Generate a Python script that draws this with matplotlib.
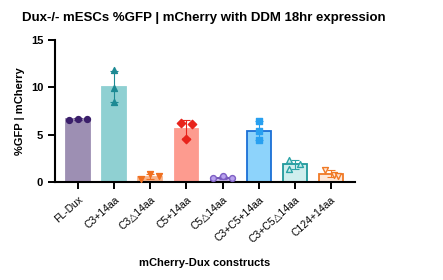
import numpy as np
import matplotlib.pyplot as plt

plt.rcParams['font.family'] = ['Liberation Sans', 'DejaVu Sans']
plt.rcParams['font.weight'] = 'bold'

# -----------------------------
# DATA
# -----------------------------
constructs = ["FL-Dux", "C3+14aa", "C3△14aa", "C5+14aa", "C5△14aa",
              "C3+C5+14aa", "C3+C5△14aa", "C124+14aa"]

rep1 = [6.5, 11.8, 0.3, 6.2, 0.4, 6.4, 2.3, 1.3]
rep2 = [6.7, 9.9, 0.8, 6.1, 0.6, 5.4, 1.9, 0.75]
rep3 = [6.7, 8.5, 0.6, 4.5, 0.4, 4.4, 1.4, 0.6]

# -----------------------------
# STYLE
# -----------------------------
bar_fill = ["#9d8fb3", "#8fd0d2", "#f8b48c", "#fd9b8f", "#c9b8ea",
            "#8dd3fb", "#cfeeee", "#fde7d8"]
bar_edge = ["#9d8fb3", "#8fd0d2", "#f8b48c", "#fd9b8f", "#6a4fb0",
            "#1a6fd6", "#21999c", "#f07a26"]
pt_color = ["#3b1f6b", "#1d8a94", "#f07020", "#e8231b", "#7e5fc4",
            "#28a0f0", "#2aa3a6", "#f07a26"]
pt_face = ["#3b1f6b", "#1d8a94", "#f07020", "#e8231b", "#b9a3ee",
           "#28a0f0", "#cdeeee", "#fde7d8"]
markers = ["o", "^", "v", "D", "o", "s", "^", "v"]
offsets = [[-0.25, 0, 0.25], [0, 0, 0], [-0.25, 0, 0.25], [-0.16, 0.15, 0],
           [-0.27, 0, 0.27], [0, 0, 0], [-0.17, 0.16, -0.17], [-0.15, 0.1, 0.2]]

reps = np.array([rep1, rep2, rep3])
means = reps.mean(axis=0)
sds = reps.std(axis=0, ddof=1)
x = np.arange(len(constructs))

fig = plt.figure(figsize=(4.43, 2.8), dpi=100)
ax = fig.add_axes([0.124, 0.35, 0.678, 0.507])

ax.bar(x, means, width=0.66, color=bar_fill, edgecolor=bar_edge, linewidth=1.3, zorder=1)

for i in range(len(constructs)):
    ax.errorbar(x[i], means[i], yerr=sds[i], fmt="none", ecolor=pt_color[i],
                elinewidth=0.8, capsize=3, capthick=0.8, zorder=2)
    ax.scatter(x[i] + np.array(offsets[i]), reps[:, i], marker=markers[i], s=18,
               color=pt_face[i], edgecolors=pt_color[i], linewidths=1.0, zorder=3)

ax.set_xlim(-0.645, 7.68)
ax.set_ylim(0, 15)
ax.set_yticks([0, 5, 10, 15])
ax.set_xticks(x)
ax.set_xticklabels(constructs, rotation=42, ha="right", rotation_mode="anchor",
                   fontsize=7.5, fontweight="normal")
ax.tick_params(axis="y", labelsize=8, width=1.4, length=5)
ax.tick_params(axis="x", width=1.4, length=5, pad=4)
for side in ["top", "right"]:
    ax.spines[side].set_visible(False)
for side in ["left", "bottom"]:
    ax.spines[side].set_linewidth(1.5)

ax.set_ylabel("%GFP | mCherry", fontsize=8, fontweight="bold")
ax.set_xlabel("mCherry-Dux constructs", fontsize=8, fontweight="bold", labelpad=10)
fig.text(0.05, 0.935, "Dux-/- mESCs %GFP | mCherry with DDM 18hr expression",
         fontsize=9.5, fontweight="bold", ha="left", va="center")

plt.savefig("out.png", dpi=100)
